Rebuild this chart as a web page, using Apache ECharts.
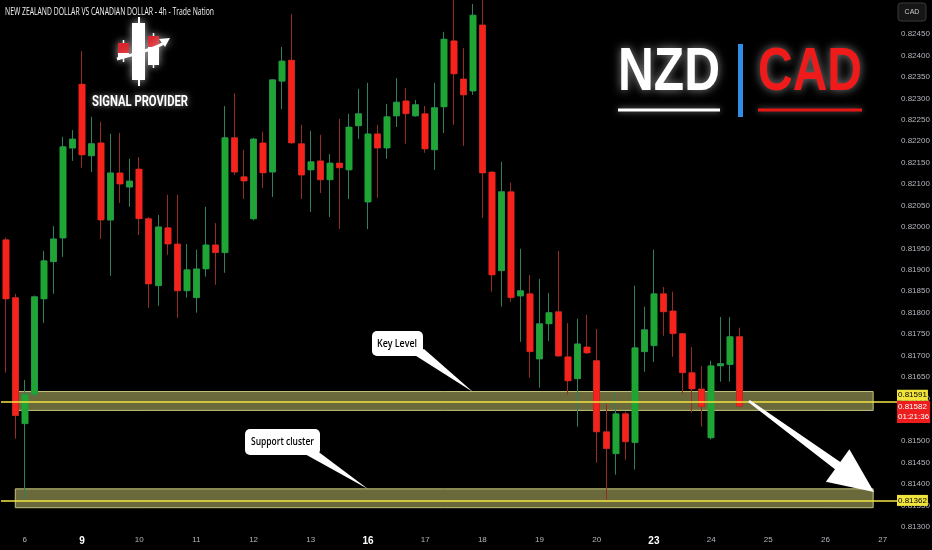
<!DOCTYPE html>
<html><head><meta charset="utf-8">
<script src="https://cdn.jsdelivr.net/npm/echarts@6/dist/echarts.min.js"></script>
<style>html,body{margin:0;padding:0;background:#000;}#c{width:932px;height:550px;}</style>
</head><body><div id="c"></div>
<script>
// ---- data ----
const leadDay = '5';
const leadHours = ['16:00', '20:00'];
const dayLabels = ['6','9','10','11','12','13','16','17','18','19','20','23','24','25','26'];
const hours = ['00:00','04:00','08:00','12:00','16:00','20:00'];
const tailDay = '27';
const tailHours = ['00:00','04:00'];
const weekStartDays = ['9','16','23'];

const open = [0.81970,0.81835,0.81541,0.81609,0.81832,0.81919,0.81974,0.82184,0.82333,0.82166,
0.82196,0.82016,0.82126,0.82093,0.82135,0.82019,0.81863,0.81998,0.81960,0.81851,
0.81835,0.81902,0.81958,0.81940,0.82208,0.82117,0.82019,0.82196,0.82128,0.82340,
0.82389,0.82194,0.82133,0.82154,0.82110,0.82149,0.82133,0.82236,0.82058,0.82217,
0.82184,0.82259,0.82294,0.82259,0.82264,0.82180,0.82280,0.82434,0.82345,0.82317,
0.82471,0.82128,0.81898,0.82082,0.81839,0.81844,0.81692,0.81774,0.81802,0.81697,
0.81646,0.81720,0.81688,0.81522,0.81471,0.81564,0.81497,0.81709,0.81723,0.81844,
0.81804,0.81751,0.81660,0.81622,0.81508,0.81676,0.81679,0.81744];
const close = [0.81832,0.81560,0.81609,0.81837,0.81921,0.81972,0.82187,0.82205,0.82168,0.82194,
0.82016,0.82126,0.82100,0.82107,0.82019,0.81867,0.82000,0.81960,0.81851,0.81900,
0.81902,0.81958,0.81940,0.82208,0.82128,0.82107,0.82205,0.82126,0.82343,0.82387,
0.82196,0.82121,0.82152,0.82110,0.82149,0.82138,0.82233,0.82264,0.82217,0.82184,
0.82257,0.82291,0.82264,0.82285,0.82182,0.82278,0.82438,0.82357,0.82308,0.82494,
0.82126,0.81888,0.82082,0.81835,0.81851,0.81709,0.81774,0.81800,0.81699,0.81641,
0.81727,0.81706,0.81522,0.81483,0.81564,0.81499,0.81718,0.81760,0.81844,0.81802,
0.81751,0.81660,0.81622,0.81581,0.81676,0.81681,0.81744,0.81582];
const low = [0.81660,0.81506,0.81364,0.81605,0.81776,0.81844,0.81930,0.82154,0.82138,0.82128,
0.81972,0.81886,0.82056,0.82047,0.81981,0.81811,0.81816,0.81935,0.81788,0.81835,
0.81800,0.81884,0.81865,0.81893,0.82121,0.82065,0.82015,0.82091,0.82070,0.82275,
0.82194,0.82065,0.82035,0.82079,0.82023,0.81995,0.82065,0.82205,0.81995,0.82068,
0.82159,0.82233,0.82194,0.82257,0.82173,0.82133,0.82219,0.82238,0.82189,0.82308,
0.82021,0.81849,0.81814,0.81825,0.81732,0.81648,0.81625,0.81734,0.81697,0.81609,
0.81534,0.81704,0.81450,0.81364,0.81422,0.81457,0.81434,0.81662,0.81685,0.81746,
0.81697,0.81611,0.81567,0.81534,0.81504,0.81639,0.81639,0.81580];
const high = [0.81975,0.81844,0.81643,0.81840,0.81944,0.82002,0.82210,0.82226,0.82410,0.82257,
0.82245,0.82217,0.82219,0.82159,0.82163,0.82023,0.82028,0.82075,0.82075,0.81960,
0.81947,0.82047,0.82009,0.82282,0.82312,0.82180,0.82208,0.82222,0.82345,0.82420,
0.82497,0.82238,0.82224,0.82215,0.82170,0.82252,0.82264,0.82322,0.82336,0.82238,
0.82287,0.82347,0.82324,0.82296,0.82282,0.82336,0.82455,0.82529,0.82417,0.82520,
0.82529,0.82130,0.82152,0.82103,0.81949,0.81888,0.81879,0.81846,0.81944,0.81776,
0.81786,0.81795,0.81762,0.81588,0.81613,0.81569,0.81863,0.81814,0.81947,0.81860,
0.81849,0.81753,0.81720,0.81676,0.81688,0.81790,0.81790,0.81765];

const keyZone = [0.81572, 0.81616];
const supportZone = [0.81345, 0.81389];
const keyLevel = 0.81591;
const supportLevel = 0.81362;
const lastPrice = 0.81582;
const countdown = '01:21:36';
const zoneFromIdx = 1, zoneToIdx = 91;
const yMin = 0.8130, yMax = 0.8245, yStep = 0.0005;

// ---- build ----
const categories = [];
leadHours.forEach(h => categories.push(leadDay + ' ' + h));
dayLabels.forEach(d => hours.forEach(h => categories.push(d + ' ' + h)));
tailHours.forEach(h => categories.push(tailDay + ' ' + h));

const candleFull = open.map((o, i) => [o, close[i], low[i], high[i]]);
const candleBody = open.map((o, i) => [o, close[i], Math.min(o, close[i]), Math.max(o, close[i])]);

const mctx = document.createElement('canvas').getContext('2d');
function fit(text, font, width) { mctx.font = font; return width / mctx.measureText(text).width; }

const GREEN = '#1ea533', RED = '#f5231c';
const axisFont = "'Liberation Sans',sans-serif";

function fitText(text, font, x, y, width, fill, extra) {
  return {
    type: 'text', x: x, y: y, scaleX: fit(text, font, width), z: 100,
    style: Object.assign({ text: text, font: font, fill: fill, align: 'left', verticalAlign: 'middle' }, extra || {})
  };
}

// big arrow polygon
const tip = [874, 492], st = [749, 401];
const dx = tip[0]-st[0], dy = tip[1]-st[1], L = Math.hypot(dx, dy);
const u = [dx/L, dy/L], p = [-u[1], u[0]];
const B = [tip[0]-45*u[0], tip[1]-45*u[1]];
const pt = (c, k) => [c[0]+k*p[0], c[1]+k*p[1]];
const arrowPts = [pt(st,-1.3), pt(B,-4.5), pt(B,-20), tip, pt(B,20), pt(B,4.5), pt(st,1.3)];

const glow = { shadowBlur: 9, shadowColor: 'rgba(255,255,255,0.6)' };
const logoRed = '#d8262c';

const graphic = [
  fitText('NEW ZEALAND DOLLAR VS CANADIAN DOLLAR - 4h - Trade Nation', "500 10px 'Open Sans'", 5, 12, 209, '#f2f2f2'),
  // logo
  { type: 'line', shape: { x1: 139, y1: 17, x2: 139, y2: 86 }, style: Object.assign({ stroke: '#fff', lineWidth: 2 }, glow) },
  { type: 'rect', shape: { x: 132, y: 23, width: 13, height: 57 }, style: Object.assign({ fill: '#fff' }, glow) },
  { type: 'line', shape: { x1: 153.5, y1: 33, x2: 153.5, y2: 68 }, style: Object.assign({ stroke: '#fff', lineWidth: 1.5 }, glow) },
  { type: 'rect', shape: { x: 148, y: 36, width: 11, height: 29 }, style: Object.assign({ fill: '#fff' }, glow) },
  { type: 'rect', shape: { x: 148, y: 36, width: 11, height: 11 }, style: { fill: logoRed } },
  { type: 'line', shape: { x1: 123.5, y1: 40, x2: 123.5, y2: 62 }, style: Object.assign({ stroke: '#fff', lineWidth: 1.5 }, glow) },
  { type: 'rect', shape: { x: 118, y: 43, width: 11, height: 14 }, style: Object.assign({ fill: '#fff' }, glow) },
  { type: 'rect', shape: { x: 118, y: 43, width: 11, height: 10 }, style: { fill: logoRed } },
  { type: 'bezierCurve', shape: { x1: 117, y1: 59, cpx1: 138, cpy1: 53, cpx2: 152, cpy2: 50, x2: 164, y2: 43 }, style: Object.assign({ stroke: '#fff', lineWidth: 3, fill: null }, glow) },
  { type: 'polygon', shape: { points: [[170, 38], [159, 39], [165, 47]] }, style: Object.assign({ fill: '#fff' }, glow) },
  fitText('SIGNAL PROVIDER', "bold 15px Roboto", 92, 102.5, 96, '#fff', { textShadowColor: 'rgba(255,255,255,0.6)', textShadowBlur: 6 }),
  // NZD | CAD
  fitText('NZD', "bold 62px 'Liberation Sans'", 618, 72.5, 102, '#fff', { textShadowColor: 'rgba(255,255,255,0.55)', textShadowBlur: 10 }),
  fitText('CAD', "bold 62px 'Liberation Sans'", 758, 72.5, 104, '#f01a1a', { textShadowColor: 'rgba(255,255,255,0.5)', textShadowBlur: 10 }),
  { type: 'rect', z: 100, shape: { x: 618, y: 108.5, width: 102, height: 3 }, style: { fill: '#fff', shadowBlur: 6, shadowColor: 'rgba(255,255,255,0.5)' } },
  { type: 'rect', z: 100, shape: { x: 758, y: 108.5, width: 104, height: 3 }, style: { fill: '#e81515', shadowBlur: 6, shadowColor: 'rgba(255,255,255,0.4)' } },
  { type: 'rect', z: 100, shape: { x: 738, y: 44, width: 5, height: 73 }, style: { fill: '#2f8fe6' } },
  // callouts
  { type: 'polygon', z: 100, shape: { points: [[413, 354], [424, 349], [473, 392]] }, style: { fill: '#fff' } },
  { type: 'rect', z: 100, shape: { x: 372, y: 331, width: 51, height: 25, r: 5 }, style: { fill: '#fff' } },
  fitText('Key Level', "600 11px 'Open Sans'", 377, 343.5, 40, '#000'),
  { type: 'polygon', z: 100, shape: { points: [[303, 453], [316, 450], [368, 489]] }, style: { fill: '#fff' } },
  { type: 'rect', z: 100, shape: { x: 245, y: 429, width: 75, height: 26, r: 5 }, style: { fill: '#fff' } },
  fitText('Support cluster', "600 11px 'Open Sans'", 251, 442, 63, '#000'),
  // big arrow
  { type: 'polygon', z: 100, shape: { points: arrowPts }, style: { fill: '#fff' } },
  // CAD box
  { type: 'rect', z: 100, shape: { x: 898, y: 3, width: 28, height: 18, r: 3 }, style: { fill: '#161616', stroke: '#3a3a3a', lineWidth: 1 } },
  { type: 'text', z: 101, x: 912, y: 12, style: { text: 'CAD', font: "7px " + axisFont, fill: '#c8c8c8', align: 'center', verticalAlign: 'middle' } }
];

const levelLabel = (txt, bg, fg, extra) => Object.assign({
  show: true, position: 'end', distance: 0, formatter: txt, color: fg, backgroundColor: bg,
  padding: [2, 1, 1, 1], fontSize: 8, fontFamily: axisFont
}, extra || {});

const chart = echarts.init(document.getElementById('c'), null, { renderer: 'canvas' });
chart.setOption({
  backgroundColor: '#000',
  animation: false,
  grid: { left: 1, right: 35, top: 34, bottom: 23, containLabel: false, outerBoundsMode: 'none' },
  xAxis: {
    type: 'category', data: categories, boundaryGap: true,
    axisLine: { show: false }, axisTick: { show: false }, splitLine: { show: false },
    axisLabel: {
      interval: (idx, val) => val.endsWith(' 00:00'),
      formatter: val => { const d = val.split(' ')[0]; return weekStartDays.includes(d) ? '{b|' + d + '}' : d; },
      color: '#b4b6bd', fontSize: 8, fontFamily: axisFont, margin: 9,
      rich: { b: { color: '#fff', fontWeight: 'bold', fontSize: 10, fontFamily: axisFont } }
    }
  },
  yAxis: {
    type: 'value', position: 'right', min: yMin, max: yMax, interval: yStep,
    axisLine: { show: false }, axisTick: { show: false }, splitLine: { show: false },
    axisLabel: { formatter: v => v.toFixed(5), color: '#b4b6bd', fontSize: 8, fontFamily: axisFont, margin: 4 }
  },
  series: [
    {
      type: 'line', data: [], z: 1, silent: true,
      markArea: {
        silent: true,
        itemStyle: { color: '#6a693b', borderColor: '#c6c47a', borderWidth: 1 },
        data: [
          [{ xAxis: zoneFromIdx, yAxis: keyZone[1] }, { xAxis: zoneToIdx, yAxis: keyZone[0] }],
          [{ xAxis: zoneFromIdx, yAxis: supportZone[1] }, { xAxis: zoneToIdx, yAxis: supportZone[0] }]
        ]
      }
    },
    {
      type: 'candlestick', data: candleFull, z: 3, clip: false, barWidth: 6, silent: true,
      itemStyle: { color: '#2a7a55', color0: '#8a2a22', borderColor: '#2f8060', borderColor0: '#962c24', borderWidth: 1 },
      markLine: {
        silent: true, symbol: ['none', 'none'], animation: false, precision: 5,
        lineStyle: { color: '#f3e445', width: 1.5, type: 'solid' },
        data: [
          { name: 'key', yAxis: keyLevel, label: levelLabel(keyLevel.toFixed(5), '#f1e43c', '#000', { offset: [0, -7] }) },
          { name: 'support', yAxis: supportLevel, label: levelLabel(supportLevel.toFixed(5), '#f1e43c', '#000') },
          { name: 'last', yAxis: lastPrice, lineStyle: { color: 'rgba(0,0,0,0)', width: 0 }, label: levelLabel(lastPrice.toFixed(5) + '\n' + countdown, '#ee1d1d', '#fff', { lineHeight: 10, padding: [1, 1, 1, 1], offset: [0, 6] }) }
        ]
      }
    },
    {
      type: 'candlestick', data: candleBody, z: 4, clip: false, barWidth: 7, silent: true,
      itemStyle: { color: GREEN, color0: RED, borderColor: GREEN, borderColor0: RED, borderWidth: 0 }
    }
  ],
  graphic: graphic
});
</script>
</body></html>
